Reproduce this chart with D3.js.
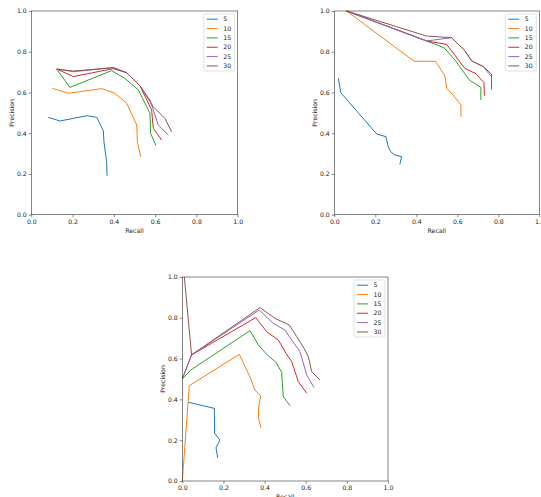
<!DOCTYPE html>
<html><head><meta charset="utf-8">
<script src="https://cdn.jsdelivr.net/npm/d3@7"></script>
<style>
html,body{margin:0;padding:0;background:#fff;}
svg{display:block;font-family:"DejaVu Sans",sans-serif;}
</style></head>
<body><svg id="c" width="541" height="497"></svg>
<script>
// ---- data ----
const seriesLabels = ["5","10","15","20","25","30"];
const colors = ["#1f77b4","#ff7f0e","#2ca02c","#d62728","#9467bd","#8c564b"];
const tickValues = [0,0.2,0.4,0.6,0.8,1.0];
const tickLabels = ["0.0","0.2","0.4","0.6","0.8","1.0"];
const xLabel = "Recall";
const yLabel = "Precision";

// Panel A (top-left): [recall, precision]
const a5  = [[0.082,0.478],[0.139,0.460],[0.204,0.473],[0.271,0.486],[0.317,0.478],[0.349,0.412],[0.352,0.358],[0.365,0.260],[0.367,0.191]];
const a10 = [[0.103,0.620],[0.179,0.596],[0.341,0.619],[0.405,0.596],[0.462,0.547],[0.511,0.440],[0.514,0.358],[0.530,0.285]];
const a15 = [[0.123,0.715],[0.187,0.625],[0.389,0.707],[0.454,0.669],[0.519,0.612],[0.575,0.498],[0.578,0.399],[0.604,0.339]];
const a20 = [[0.123,0.715],[0.204,0.678],[0.397,0.717],[0.462,0.697],[0.527,0.632],[0.583,0.514],[0.591,0.424],[0.631,0.367]];
const a25 = [[0.123,0.715],[0.204,0.702],[0.397,0.722],[0.462,0.697],[0.527,0.632],[0.575,0.563],[0.615,0.440],[0.664,0.391]];
const a30 = [[0.123,0.715],[0.204,0.705],[0.397,0.722],[0.462,0.697],[0.527,0.632],[0.591,0.530],[0.647,0.473],[0.680,0.408]];

// Panel B (top-right)
const b5  = [[0.020,0.669],[0.031,0.600],[0.207,0.396],[0.252,0.383],[0.263,0.334],[0.275,0.309],[0.296,0.293],[0.328,0.285],[0.320,0.247]];
const b10 = [[0.060,1.000],[0.390,0.753],[0.494,0.753],[0.540,0.681],[0.548,0.620],[0.580,0.587],[0.618,0.538],[0.618,0.481]];
const b15 = [[0.060,1.000],[0.450,0.853],[0.535,0.820],[0.589,0.759],[0.659,0.661],[0.715,0.625],[0.715,0.563]];
const b20 = [[0.060,1.000],[0.450,0.853],[0.548,0.836],[0.637,0.718],[0.691,0.692],[0.730,0.648],[0.732,0.584]];
const b25 = [[0.060,1.000],[0.450,0.853],[0.572,0.869],[0.637,0.805],[0.670,0.755],[0.727,0.727],[0.763,0.681]];
const b30 = [[0.060,1.000],[0.450,0.877],[0.572,0.869],[0.637,0.805],[0.670,0.755],[0.727,0.727],[0.767,0.690],[0.767,0.615]];

// Panel C (bottom)
const c5  = [[0.029,0.386],[0.156,0.356],[0.157,0.234],[0.183,0.201],[0.164,0.163],[0.172,0.114]];
const c10 = [[0.000,0.000],[0.034,0.467],[0.277,0.621],[0.332,0.503],[0.353,0.446],[0.381,0.418],[0.370,0.356],[0.371,0.307],[0.382,0.261]];
const c15 = [[0.000,0.500],[0.041,0.544],[0.329,0.737],[0.370,0.667],[0.410,0.621],[0.455,0.582],[0.483,0.533],[0.491,0.413],[0.524,0.369]];
const c20 = [[0.000,0.500],[0.045,0.618],[0.357,0.801],[0.410,0.732],[0.467,0.691],[0.504,0.626],[0.532,0.585],[0.548,0.536],[0.564,0.487],[0.605,0.430]];
const c25 = [[0.000,0.500],[0.045,0.618],[0.374,0.838],[0.442,0.773],[0.499,0.740],[0.532,0.691],[0.572,0.634],[0.605,0.520],[0.640,0.458]];
const c30 = [[0.010,1.000],[0.045,0.618],[0.378,0.850],[0.451,0.797],[0.520,0.765],[0.556,0.708],[0.592,0.650],[0.613,0.609],[0.629,0.536],[0.669,0.495]];

const panels = [
  {x0:31.3, y0:11, w:206.4, h:203.7, series:[a5,a10,a15,a20,a25,a30]},
  {x0:334.3, y0:11, w:205, h:203.7, series:[b5,b10,b15,b20,b25,b30]},
  {x0:182.3, y0:277, w:205.7, h:204, series:[c5,c10,c15,c20,c25,c30]}
];

const svg = d3.select("#c");
const fs = 6.2;

panels.forEach(p => {
  const g = svg.append("g").attr("transform", `translate(${p.x0},${p.y0})`);
  const x = d3.scaleLinear().domain([0,1]).range([0,p.w]);
  const y = d3.scaleLinear().domain([0,1]).range([p.h,0]);

  const xAxis = d3.axisBottom(x).tickValues(tickValues).tickFormat((d,i)=>tickLabels[i]).tickSize(2.5).tickPadding(2);
  const yAxis = d3.axisLeft(y).tickValues(tickValues).tickFormat((d,i)=>tickLabels[i]).tickSize(2.5).tickPadding(2);

  const gx = g.append("g").attr("transform",`translate(0,${p.h})`).call(xAxis);
  const gy = g.append("g").call(yAxis);
  [gx,gy].forEach(a=>{
    a.select(".domain").remove();
    a.selectAll("line").attr("stroke","#333").attr("stroke-width",0.6);
    a.selectAll("text").attr("font-size",fs).attr("fill","#222").attr("font-family","DejaVu Sans");
  });

  // series
  const line = d3.line().x(d=>x(d[0])).y(d=>y(d[1]));
  p.series.forEach((s,i)=>{
    g.append("path").datum(s).attr("d",line).attr("fill","none")
      .attr("stroke",colors[i]).attr("stroke-width",1).attr("stroke-linejoin","round");
  });

  // frame
  g.append("rect").attr("x",0).attr("y",0).attr("width",p.w).attr("height",p.h)
    .attr("fill","none").attr("stroke","#333").attr("stroke-width",0.6);

  // axis labels
  g.append("text").attr("x",p.w/2).attr("y",p.h+18).attr("text-anchor","middle")
    .attr("font-size",fs).attr("fill","#222").text(xLabel);
  g.append("text").attr("transform",`translate(-17.5,${p.h/2}) rotate(-90)`).attr("text-anchor","middle")
    .attr("font-size",fs).attr("fill","#222").text(yLabel);

  // legend
  const lw = 31, lh = 57;
  const lg = g.append("g").attr("transform",`translate(${p.w-lw-3},3)`);
  lg.append("rect").attr("width",lw).attr("height",lh).attr("rx",1.5)
    .attr("fill","#fff").attr("fill-opacity",0.8).attr("stroke","#ccc").attr("stroke-width",0.6);
  seriesLabels.forEach((lab,i)=>{
    const yy = 5.2 + i*9.35;
    lg.append("line").attr("x1",3).attr("x2",14).attr("y1",yy).attr("y2",yy)
      .attr("stroke",colors[i]).attr("stroke-width",1);
    lg.append("text").attr("x",19.5).attr("y",yy).attr("dy","0.35em")
      .attr("font-size",fs).attr("fill","#222").text(lab);
  });
});
</script>
</body></html>
